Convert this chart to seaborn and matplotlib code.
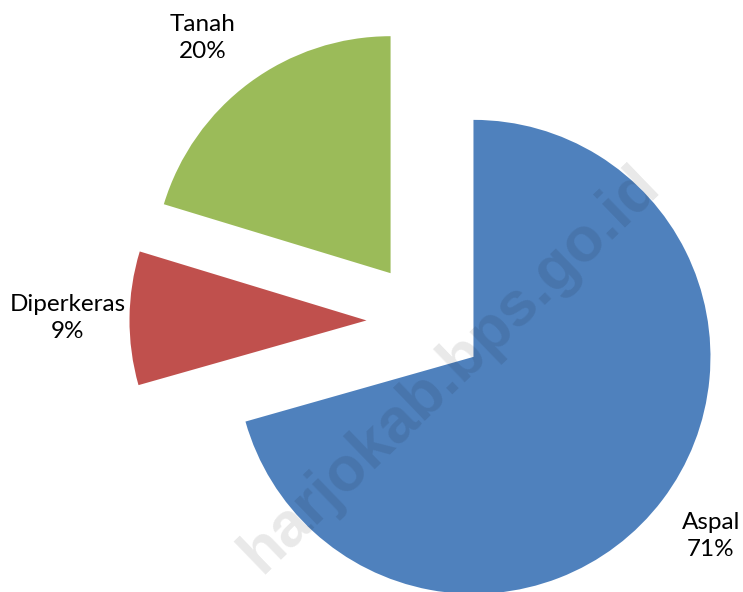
import matplotlib
matplotlib.use("Agg")
import matplotlib.pyplot as plt
import seaborn as sns

sns.set_theme(style="white")
plt.rcParams['font.family'] = ['Lato', 'DejaVu Sans']

# Data
categories = ["Aspal", "Diperkeras", "Tanah"]
values = [70.6, 9.1, 20.3]
colors = ["#4F81BD", "#C0504D", "#9BBB59"]
watermark = "harjokab.bps.go.id"

# Layout (pixel-like coordinates, y negative downward)
W, H = 743, 592
center = (426, -321)
radius = 237
explode = [59.5, 59.5, 59.5]
label_pos = [(711, -536), (68, -318), (203, -38)]

fig = plt.figure(figsize=(W / 100, H / 100), dpi=100)
ax = fig.add_axes([0, 0, 1, 1])

wedges, _ = ax.pie(values, colors=colors, startangle=90, counterclock=False,
                   explode=explode, center=center, radius=radius,
                   wedgeprops=dict(linewidth=0))

for cat, v, (x, y) in zip(categories, values, label_pos):
    ax.text(x, y, f"{cat}\n{v:.0f}%", ha="center", va="center", fontsize=17.5,
            color="black", linespacing=1.3)

ax.text(662, -188, watermark, rotation=44, rotation_mode="anchor",
        ha="right", va="baseline", fontsize=45, fontweight="bold",
        family=["Liberation Sans", "DejaVu Sans"], color="black", alpha=0.09)

ax.set_xlim(0, W)
ax.set_ylim(-H, 0)
ax.set_aspect("equal")
ax.axis("off")

fig.savefig("out.png", dpi=100, facecolor="white")
